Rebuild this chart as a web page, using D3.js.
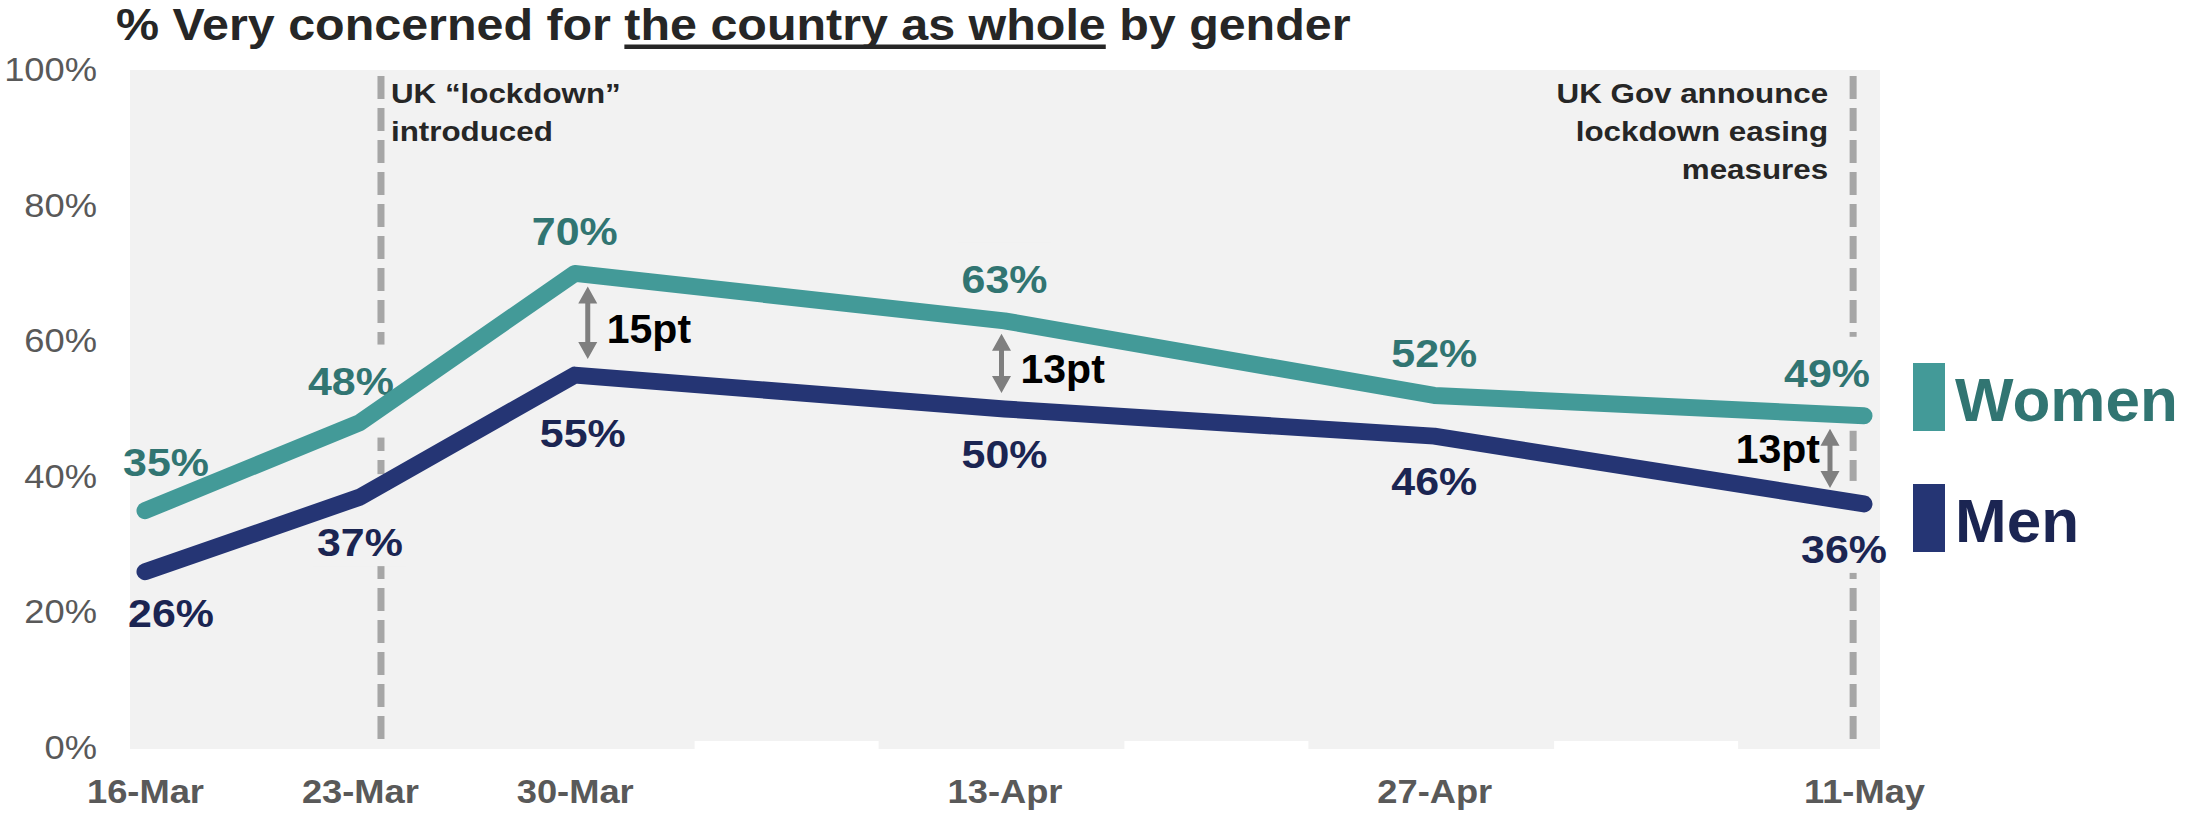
<!DOCTYPE html>
<html>
<head>
<meta charset="utf-8">
<script src="https://cdn.jsdelivr.net/npm/d3@7"></script>
<style>
  body { margin: 0; background: #ffffff; }
  text { font-family: "Liberation Sans", Arial, sans-serif; }
</style>
</head>
<body>
<div class="chart"></div>
<script>
// chart data
var weeks = ["16-Mar", "23-Mar", "30-Mar", "13-Apr", "27-Apr", "11-May"];
var women = [35, 48, 70, 63, 52, 49];
var men = [26, 37, 55, 50, 46, 36];
var yTicks = [0, 20, 40, 60, 80, 100];
var seriesNames = ["Women", "Men"];
var gapWeeks = ["30-Mar", "13-Apr", "11-May"];
var hiddenWeeks = ["6-Apr", "20-Apr", "4-May"];
var eventDates = ["2020-03-23T16:30Z", "2020-05-10T15:30Z"];
var eventNotes = [["UK \u201clockdown\u201d", "introduced"], ["UK Gov announce", "lockdown easing", "measures"]];
var titleParts = ["% Very concerned for ", "the country as whole", " by gender"];

// look
var W = 2187, H = 813;
var SX = 1.1; // the source picture is stretched sideways
var col = {
    bg: "#f2f2f2", women: "#439a98", womenText: "#317572",
    men: "#253574", menText: "#1b2552", axis: "#595959",
    dash: "#a6a6a6", arrow: "#7f7f7f", ink: "#262626"
};
var font = "'Liberation Sans', Arial, sans-serif";

var parseDay = d3.utcParse("%d-%b-%Y");
var dates = weeks.map(function (w) { return parseDay(w + "-2020"); });

var x = d3.scaleUtc().domain([dates[0], dates[dates.length - 1]]).range([145, 1864]);
var y = d3.scaleLinear().domain([0, 100]).range([748, 70]);

var svg = d3.select(".chart").append("svg")
    .attr("width", W).attr("height", H);

//stretch text sideways like the source
function stretch(sel) {
    sel.each(function () {
        var t = d3.select(this);
        var tx = +t.attr("x") || 0, ty = +t.attr("y") || 0;
        t.attr("x", 0).attr("y", 0)
            .attr("transform", "translate(" + tx + "," + ty + ") scale(" + SX + ",1)");
    });
}

//plot background
var plot = {
    x: x.range()[0] - 15, y: y(100),
    w: x.range()[1] - x.range()[0] + 31, h: y(0) - y(100) + 1
};
svg.append("rect")
    .attr("x", plot.x).attr("y", plot.y)
    .attr("width", plot.w).attr("height", plot.h)
    .attr("fill", col.bg);
svg.append("clipPath").attr("id", "plotClip")
    .append("rect")
    .attr("x", plot.x).attr("y", plot.y)
    .attr("width", plot.w).attr("height", plot.h);

//white boxes that hide the in-between week labels
svg.selectAll(".hide").data(hiddenWeeks).enter().append("rect")
    .attr("x", function (d) { return x(parseDay(d + "-2020")) - 95; })
    .attr("y", y(0) - 7)
    .attr("width", 184)
    .attr("height", 20)
    .attr("fill", "#ffffff");

//event lines
svg.selectAll(".event").data(eventDates).enter().append("line")
    .attr("x1", function (d) { return x(new Date(d)); })
    .attr("x2", function (d) { return x(new Date(d)); })
    .attr("y1", y(100) + 6)
    .attr("y2", y(0))
    .attr("stroke", col.dash)
    .attr("stroke-width", 7)
    .attr("stroke-dasharray", "23,9");

//event notes
eventNotes.forEach(function (lines, k) {
    var ex = x(new Date(eventDates[k]));
    var right = k === 0;
    lines.forEach(function (line, j) {
        svg.append("text")
            .attr("x", right ? ex + 10 : ex - 25)
            .attr("y", 103 + j * 38)
            .attr("text-anchor", right ? "start" : "end")
            .attr("font-size", 28.5)
            .attr("font-weight", "bold")
            .attr("fill", col.ink)
            .text(line)
            .call(stretch);
    });
});

//data labels
var series = [
    { name: "Women", values: women, line: col.women, text: col.womenText, dy: -28,
      nudge: { 0: [21, -35], 1: [-9, -28], 5: [-37, -29] } },
    { name: "Men", values: men, line: col.men, text: col.menText, dy: 59,
      nudge: { 0: [26, 55], 2: [8, 72], 5: [-20, 59] } }
];

var boxes = svg.append("g").attr("clip-path", "url(#plotClip)");
series.forEach(function (s, si) {
    s.values.forEach(function (v, i) {
        var px = x(dates[i]), py = y(v);
        var n = s.nudge[i] || [0, s.dy];
        var lx = px + n[0], ly = py + n[1];
        var box = boxes.append("rect").attr("fill", col.bg);
        var t = svg.append("text")
            .attr("x", lx).attr("y", ly)
            .attr("text-anchor", "middle")
            .attr("font-size", 39)
            .attr("font-weight", "bold")
            .attr("fill", s.text)
            .text(v + "%");
        var bw = t.node().getBBox().width * SX;
        t.call(stretch);
        var top = si === 0 ? ly - 50 : py - 23;
        var bot = si === 0 ? py + 15 : ly + 10;
        box.attr("x", lx - bw / 2 - 4).attr("width", bw + 8)
            .attr("y", top).attr("height", bot - top);
    });
});

//lines
var line = d3.line()
    .x(function (d, i) { return x(dates[i]); })
    .y(function (d) { return y(d); });

series.forEach(function (s) {
    svg.append("path")
        .attr("d", line(s.values))
        .attr("fill", "none")
        .attr("stroke", s.line)
        .attr("stroke-width", 17)
        .attr("stroke-linecap", "round")
        .attr("stroke-linejoin", "round");
});

//gap arrows
var arrowDx = [13, -3, -34];
gapWeeks.forEach(function (w, k) {
    var i = weeks.indexOf(w);
    var ax = x(dates[i]) + arrowDx[k];
    var top = y(women[i]) + 13, bot = y(men[i]) - 16;
    var hl = 17, hw = 9.5;
    svg.append("line")
        .attr("x1", ax).attr("x2", ax)
        .attr("y1", top + hl - 2).attr("y2", bot - hl + 2)
        .attr("stroke", col.arrow).attr("stroke-width", 5);
    var p = d3.path();
    p.moveTo(ax, top); p.lineTo(ax + hw, top + hl); p.lineTo(ax - hw, top + hl); p.closePath();
    p.moveTo(ax, bot); p.lineTo(ax + hw, bot - hl); p.lineTo(ax - hw, bot - hl); p.closePath();
    svg.append("path").attr("d", p.toString()).attr("fill", col.arrow);

    var last = k === gapWeeks.length - 1;
    svg.append("text")
        .attr("x", last ? ax - 10 : ax + 19)
        .attr("y", last ? top + 34 : (top + bot) / 2 + 20)
        .attr("text-anchor", last ? "end" : "start")
        .attr("font-size", 41)
        .attr("font-weight", "bold")
        .attr("fill", "#000000")
        .text((women[i] - men[i]) + "pt");
});

//axes
var yAxis = svg.append("g")
    .attr("transform", "translate(97,0)")
    .call(d3.axisLeft(y).tickValues(yTicks).tickSize(0).tickPadding(0)
        .tickFormat(function (d) { return d + "%"; }));
yAxis.select(".domain").remove();
yAxis.selectAll("text")
    .attr("font-family", font)
    .attr("font-size", 33)
    .attr("fill", col.axis)
    .attr("transform", "scale(" + SX + ",1)");

var xAxis = svg.append("g")
    .attr("transform", "translate(0,780)")
    .call(d3.axisBottom(x).tickValues(dates).tickSize(0).tickPadding(0)
        .tickFormat(d3.utcFormat("%-d-%b")));
xAxis.select(".domain").remove();
xAxis.selectAll("text")
    .attr("font-family", font)
    .attr("font-size", 33)
    .attr("font-weight", "bold")
    .attr("fill", col.axis)
    .attr("transform", "scale(" + SX + ",1)");

//title with underline
var titleG = svg.append("g")
    .attr("transform", "translate(116,40) scale(" + SX + ",1)");
var title = titleG.append("text")
    .attr("font-size", 44)
    .attr("font-weight", "bold")
    .attr("fill", col.ink);
title.selectAll("tspan").data(titleParts).enter().append("tspan").text(function (d) { return d; });
var uStart = titleParts[0].length;
var ux = title.node().getStartPositionOfChar(uStart).x;
var uw = title.node().getSubStringLength(uStart, titleParts[1].length);
titleG.append("rect")
    .attr("x", ux).attr("y", 4.5)
    .attr("width", uw).attr("height", 4.5)
    .attr("fill", col.ink);

//legend
var legend = [
    { name: seriesNames[0], swatch: col.women, text: col.womenText, top: 363 },
    { name: seriesNames[1], swatch: col.men, text: col.menText, top: 484 }
];
legend.forEach(function (l) {
    svg.append("rect")
        .attr("x", 1913).attr("y", l.top)
        .attr("width", 32).attr("height", 68)
        .attr("fill", l.swatch);
    svg.append("text")
        .attr("x", 1955).attr("y", l.top + 58)
        .attr("font-size", 62)
        .attr("font-weight", "bold")
        .attr("fill", l.text)
        .text(l.name);
});
</script>
</body>
</html>
